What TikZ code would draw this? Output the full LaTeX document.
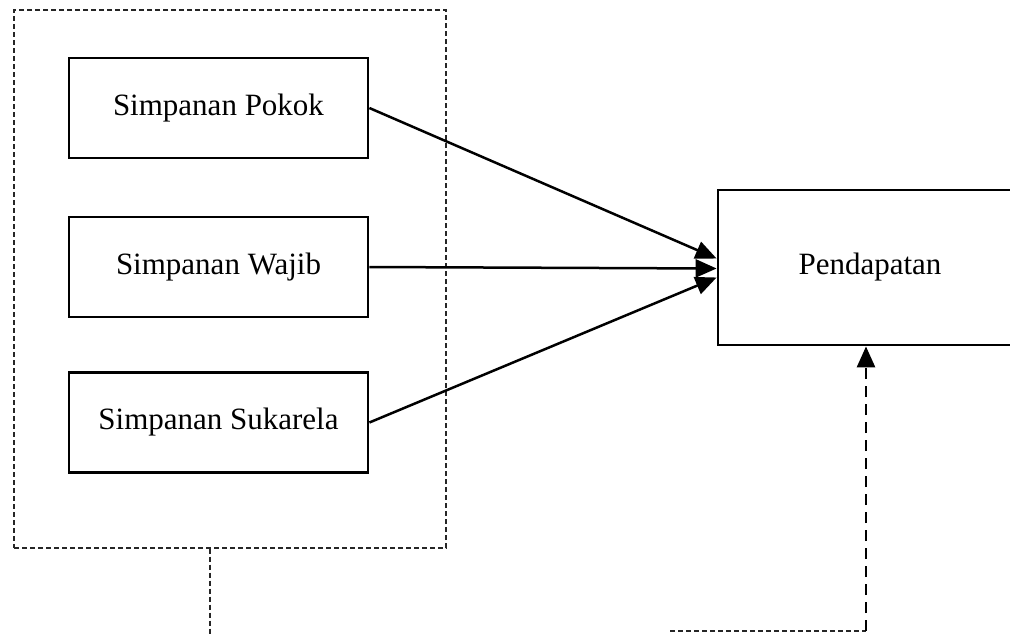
\documentclass[tikz,border=0pt]{standalone}
\usepackage{fontspec}
\setmainfont{Liberation Serif}
\usetikzlibrary{arrows.meta,calc}
\tikzset{
  varbox/.style={draw=black,line width=2.8pt,minimum width=299pt,minimum height=100pt,inner sep=0pt,font=\fontsize{31}{36}\selectfont},
  grpbox/.style={draw=black!85,line width=1.2pt,dash pattern=on 5pt off 3pt,minimum width=432pt,minimum height=538pt,inner sep=0pt},
  arr/.style={line width=2.5pt,-{Triangle[length=21pt,width=18pt]}},
  thindash/.style={draw=black!85,line width=1.2pt,dash pattern=on 5pt off 3pt},
  thickdash/.style={line width=2.8pt,dash pattern=on 11pt off 7pt,-{Triangle[length=21pt,width=18pt]}}
}
\begin{document}
\begin{tikzpicture}[x=1pt,y=-1pt]
\useasboundingbox (0,0) rectangle (1010,633);
\clip (0,0) rectangle (1010,633);
\fill[white] (0,0) rectangle (1010,633);
\node[grpbox] (grp) at (230,279) {};
\node[varbox] (pokok) at (218.5,108) {Simpanan Pokok};
\node[varbox] (wajib) at (218.5,267) {Simpanan Wajib};
\node[varbox] (suka) at (218.5,422.5) {Simpanan Sukarela};
\node[varbox,minimum width=304pt,minimum height=155pt] (pend) at (870,267.5) {Pendapatan};
\draw[arr] (pokok.east) -- ($(pend.west)+(0,-9)$);
\draw[arr] (wajib.east) -- ($(pend.west)+(0,1)$);
\draw[arr] (suka.east) -- ($(pend.west)+(0,10)$);
\coordinate (b1) at (210,640);
\draw[thindash] (grp.south -| b1) -- (b1);
\coordinate (b2) at (670,631);
\coordinate (b3) at (866,631);
\draw[thindash] (b2) -- (b3);
\draw[thickdash] (b3) -- (b3 |- pend.south);
\end{tikzpicture}
\end{document}
